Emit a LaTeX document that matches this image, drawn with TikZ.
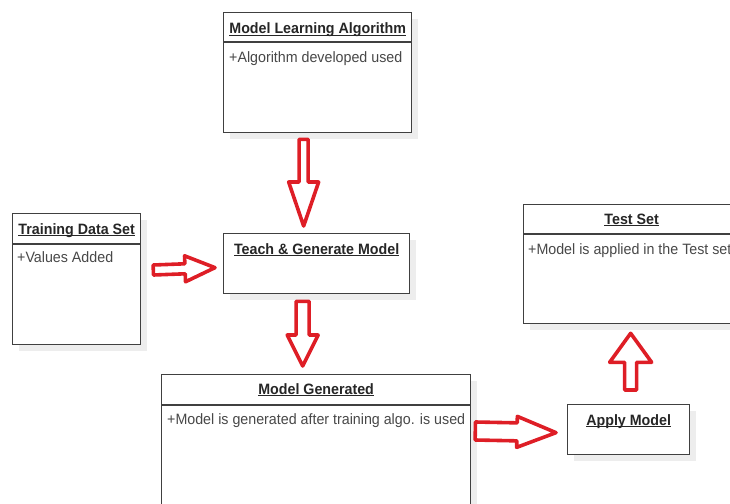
\documentclass[tikz,border=0pt]{standalone}
\usepackage{fontspec}
\setmainfont[FakeStretch=0.95]{Liberation Sans}
\usetikzlibrary{calc,shadows}
\definecolor{arrowred}{RGB}{222,30,38}
\definecolor{boxline}{RGB}{64,64,64}
\definecolor{attrgray}{RGB}{72,72,72}
\tikzset{
  classbox/.style={draw=boxline, line width=1.3pt, fill=white, anchor=north west, inner sep=0pt,
    drop shadow={shadow xshift=6pt, shadow yshift=-6pt, fill=black!7, opacity=1}},
  classtitle/.style={font=\fontsize{15}{17}\selectfont\bfseries, text=black!85, inner sep=0pt, anchor=base},
  classattr/.style={font=\fontsize{15}{17}\selectfont, text=attrgray, inner sep=0pt, anchor=base west},
  classline/.style={draw=boxline, line width=1.1pt},
  fatline/.style={draw=arrowred, line width=3.6pt, line join=round}
}
% underlined class name
\newcommand\ulname[1]{\setbox0\hbox{#1}\rlap{\rule[-2.4pt]{\wd0}{1.1pt}}\box0}
% from, to, shaft half width, head half width, head length
\newcommand\fatarrow[5]{%
  \path ($(#2)!#5!(#1)$) coordinate (fatbase);
  \draw[fatline] ($(#1)!#3!90:(#2)$) -- ($(fatbase)!#3!90:(#2)$) -- ($(fatbase)!#4!90:(#2)$)
    -- (#2) -- ($(fatbase)!#4!-90:(#2)$) -- ($(fatbase)!#3!-90:(#2)$) -- ($(#1)!#3!-90:(#2)$) -- cycle;
}
\begin{document}
\begin{tikzpicture}[x=1pt,y=-1pt]
      \clip (0,0) rectangle (730,503);
      % class boxes
      \node[classbox, minimum width=188, minimum height=120] (mla) at (223,12) {};
      \node[classbox, minimum width=186, minimum height=60] (tgm) at (223,233) {};
      \node[classbox, minimum width=128, minimum height=131] (tds) at (12,213) {};
      \node[classbox, minimum width=309, minimum height=160] (mg) at (161,374) {};
      \node[classbox, minimum width=122, minimum height=50] (am) at (567,404) {};
      \node[classbox, minimum width=216, minimum height=119] (ts) at (523,204) {};
      % titles
      \node[classtitle] (mlat) at ($(mla.north)+(0,21.5)$) {\ulname{Model Learning Algorithm}};
      \node[classtitle] (tgmt) at ($(tgm.north)+(0,21)$) {\ulname{Teach \& Generate Model}};
      \node[classtitle] (tdst) at ($(tds.north)+(0,21)$) {\ulname{Training Data Set}};
      \node[classtitle] (mgt) at ($(mg.north)+(0,20)$) {\ulname{Model Generated}};
      \node[classtitle] (amt) at ($(am.north)+(0,21)$) {\ulname{Apply Model}};
      \node[classtitle] (tst) at ($(ts.north)+(0,20)$) {\ulname{Test Set}};
      % dividers
      \draw[classline] ($(mla.north west)+(0,30)$) -- ($(mla.north east)+(0,30)$);
      \draw[classline] ($(tds.north west)+(0,31)$) -- ($(tds.north east)+(0,31)$);
      \draw[classline] ($(mg.north west)+(0,31)$) -- ($(mg.north east)+(0,31)$);
      \draw[classline] ($(ts.north west)+(0,30)$) -- ($(ts.north east)+(0,30)$);
      % attributes
      \node[classattr] (mlaa) at ($(mla.north west)+(6,51)$) {+Algorithm developed used};
      \node[classattr] (tdsa) at ($(tds.north west)+(5,49)$) {+Values Added};
      \node[classattr] (mga) at ($(mg.north west)+(6,50)$) {+Model is generated after training algo. is used};
      \node[classattr] (tsa) at ($(ts.north west)+(5,50)$) {+Model is applied in the Test set};
      % arrows
      \fatarrow{$(mla.south)+(-14,6)$}{$(tgm.north)+(-13,-7)$}{4.5pt}{15pt}{44pt}
      \fatarrow{$(tgm.south)+(-14,7)$}{$(mg.north)+(-13.5,-8)$}{6.5pt}{15.5pt}{31pt}
      \fatarrow{$(tds.north east)+(12,57)$}{$(tgm.west)+(-8,4)$}{5pt}{13pt}{30pt}
      \fatarrow{$(mg.north east)+(4,57)$}{$(am.west)+(-11,3)$}{9pt}{15.5pt}{39pt}
      \fatarrow{$(am.north)+(2,-14)$}{$(ts.south)+(-1,9)$}{6pt}{21pt}{29pt}
\end{tikzpicture}
\end{document}
